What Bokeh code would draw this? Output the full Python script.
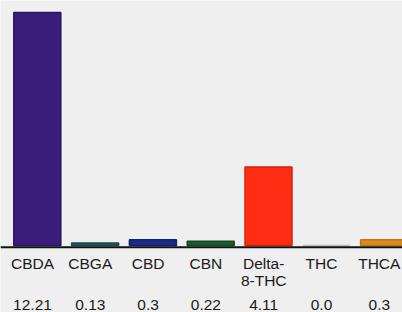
from bokeh.plotting import figure
from bokeh.models import Range1d, Span, ColumnDataSource
from bokeh.core.properties import value
from bokeh.embed import file_html
from bokeh.resources import INLINE

categories = ["CBDA", "CBGA", "CBD", "CBN", "Delta-\n8-THC", "THC", "THCA"]
values = [12.21, 0.13, 0.3, 0.22, 4.11, 0.0, 0.3]
value_labels = ["12.21", "0.13", "0.3", "0.22", "4.11", "0.0", "0.3"]
colors = ["#3b1d7c", "#20585a", "#1c2a8c", "#1a5c2c", "#ff2d14", "#cfcfcf", "#dd8a22"]
edge_colors = ["#2c1460", "#17484a", "#142070", "#134a22", "#d82008", "#bdbdbd", "#c07418"]

W, H = 402, 312
px_per_cat = 57.8
px_per_unit = 19.08
base_px = 245.0          # pixel row of the zero line
left_px = 36.8           # pixel column of the first category
x0 = -left_px / px_per_cat
y_top = base_px / px_per_unit
y_bot = -(H - base_px) / px_per_unit

idx = list(range(len(categories)))
src = ColumnDataSource(dict(x=idx, top=values, color=colors, edge=edge_colors,
                            cat=categories, val=value_labels))

p = figure(width=W, height=H, output_backend="svg", toolbar_location=None,
           x_range=Range1d(x0, x0 + W / px_per_cat),
           y_range=Range1d(y_bot, y_top),
           min_border=0, min_border_left=0, min_border_right=0,
           min_border_top=0, min_border_bottom=0)
p.axis.visible = False
p.grid.visible = False
p.outline_line_color = None
p.background_fill_color = "#efefef"
p.border_fill_color = "#efefef"

p.vbar(x="x", top="top", bottom=0, width=47 / px_per_cat, fill_color="color",
       line_color="edge", line_width=1.5, source=src)

p.add_layout(Span(location=-1.75 / px_per_unit, dimension="width",
                  line_color="#111111", line_width=2))

font = value("Liberation Sans")
p.text(x="x", y=-9.0 / px_per_unit, text="cat", source=src, text_font=font,
       text_font_size="15.5px", text_align="center", text_baseline="top",
       text_line_height=1.03, text_color="#1a1a1a", x_offset=-4.8)
p.text(x="x", y=-54.2 / px_per_unit, text="val", source=src, text_font=font,
       text_font_size="15.5px", text_align="center", text_baseline="top",
       text_color="#1a1a1a", x_offset=-4.8)

open("out.html", "w").write(file_html(p, INLINE))
